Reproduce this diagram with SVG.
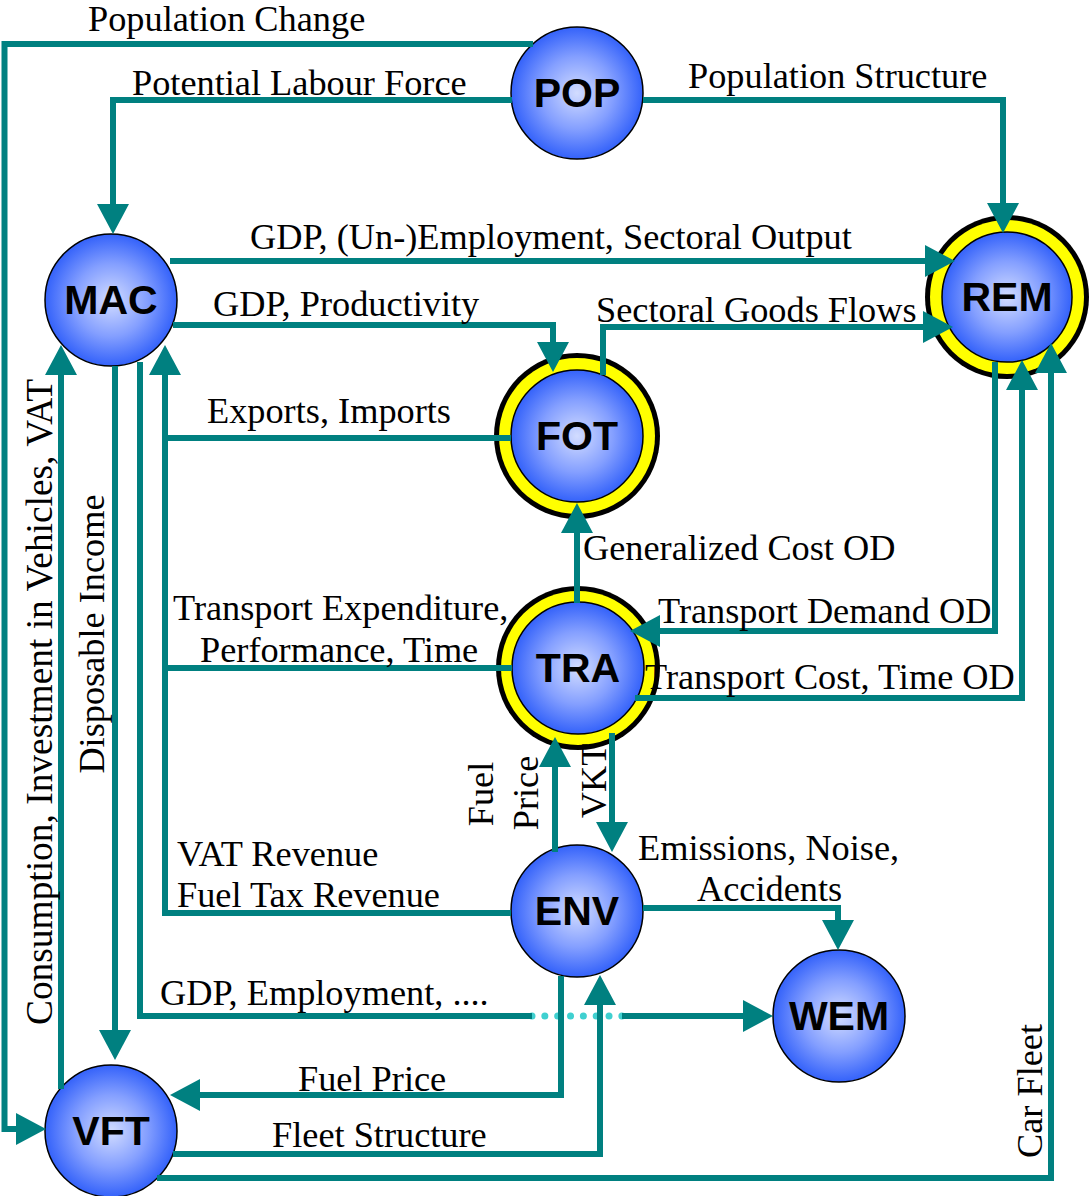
<svg xmlns="http://www.w3.org/2000/svg" width="1091" height="1196" viewBox="0 0 1091 1196">
<style>
.c{fill:none;stroke:#008080;stroke-width:6;stroke-linejoin:miter}
.a{marker-end:url(#ah)}
.lbl{font-family:"Liberation Serif","Times New Roman",serif;font-size:36.3px;fill:#000}
.nl{font-family:"Liberation Sans",Arial,sans-serif;font-size:41px;font-weight:bold;fill:#000;text-anchor:middle}
.blue{fill:url(#g);stroke:#000;stroke-width:1.5}
.ring{fill:#000}
.yel{fill:#ffff00}
</style>
<defs>
<radialGradient id="g" cx="50%" cy="50%" r="50%">
<stop offset="0" stop-color="#d2dcff"/>
<stop offset="0.55" stop-color="#849fff"/>
<stop offset="1" stop-color="#3462fa"/>
</radialGradient>
<marker id="ah" markerUnits="userSpaceOnUse" markerWidth="30" markerHeight="32" viewBox="0 0 30 32" refX="24" refY="16" orient="auto">
<path d="M0,0 L30,16 L0,32 z" fill="#008080"/>
</marker>
</defs>

<g id="POP"><circle class="blue" cx="577" cy="93" r="66"/><text class="nl" x="577" y="107">POP</text></g>
<g id="MAC"><circle class="blue" cx="111" cy="300" r="66"/><text class="nl" x="111" y="314">MAC</text></g>
<g id="REM"><circle class="ring" cx="1007" cy="297" r="82"/><circle class="yel" cx="1007" cy="297" r="77"/><circle class="blue" cx="1007" cy="297" r="65"/><text class="nl" x="1007" y="311">REM</text></g>
<g id="FOT"><circle class="ring" cx="577" cy="436" r="83"/><circle class="yel" cx="577" cy="436" r="78"/><circle class="blue" cx="577" cy="436" r="66"/><text class="nl" x="577" y="450">FOT</text></g>
<g id="TRA"><circle class="ring" cx="578" cy="668" r="82"/><circle class="yel" cx="578" cy="668" r="77"/><circle class="blue" cx="578" cy="668" r="66"/><text class="nl" x="578" y="682">TRA</text></g>
<g id="ENV"><circle class="blue" cx="577" cy="911" r="66"/><text class="nl" x="577" y="925">ENV</text></g>
<g id="WEM"><circle class="blue" cx="839" cy="1016" r="66"/><text class="nl" x="839" y="1030">WEM</text></g>
<g id="VFT"><circle class="blue" cx="111" cy="1131" r="66"/><text class="nl" x="111" y="1145">VFT</text></g>

<g id="connectors">
<line x1="532" y1="1016" x2="622" y2="1016" stroke="#40d0d0" stroke-width="7" stroke-linecap="round" stroke-dasharray="0 12.84"/>
<polyline class="c a" points="533,44 4.5,44 4.5,1129 40,1129"/>
<polyline class="c a" points="512,100 113,100 113,228"/>
<polyline class="c a" points="643,100 1003,100 1003,227"/>
<polyline class="c a" points="170,261 949,261"/>
<polyline class="c a" points="173,325 553,325 553,366"/>
<polyline class="c a" points="603,375 603,327 947,327"/>
<polyline class="c" points="511,438 165,438"/>
<polyline class="c a" points="511,913 165,913 165,351"/>
<polyline class="c" points="512,668 165,668"/>
<polyline class="c" points="140,362 140,1016 532,1016"/>
<polyline class="c a" points="622,1016 767,1016"/>
<polyline class="c a" points="115,366 115,1054"/>
<polyline class="c a" points="61,1089 61,351"/>
<polyline class="c a" points="577,603 577,509"/>
<polyline class="c a" points="995,362 995,631 636,631"/>
<polyline class="c a" points="635,698 1022,698 1022,366"/>
<polyline class="c a" points="157,1178 1051,1178 1051,349"/>
<polyline class="c a" points="555,852 555,743"/>
<polyline class="c a" points="612,733 612,846"/>
<polyline class="c a" points="643,908 838,908 838,944"/>
<polyline class="c a" points="561,976 561,1095 176,1095"/>
<polyline class="c a" points="173,1154 600,1154 600,981"/>
</g>

<g id="labels">
<text class="lbl" x="88" y="31">Population Change</text>
<text class="lbl" x="132" y="95">Potential Labour Force</text>
<text class="lbl" x="688" y="88">Population Structure</text>
<text class="lbl" x="250" y="249">GDP, (Un-)Employment, Sectoral Output</text>
<text class="lbl" x="213" y="316">GDP, Productivity</text>
<text class="lbl" x="596" y="322">Sectoral Goods Flows</text>
<text class="lbl" x="207" y="423">Exports, Imports</text>
<text class="lbl" x="583" y="560">Generalized Cost OD</text>
<text class="lbl" x="173" y="620">Transport Expenditure,</text>
<text class="lbl" x="200" y="662">Performance, Time</text>
<text class="lbl" x="658" y="623">Transport Demand OD</text>
<text class="lbl" x="645" y="689">Transport Cost, Time OD</text>
<text class="lbl" x="177" y="866">VAT Revenue</text>
<text class="lbl" x="177" y="907">Fuel Tax Revenue</text>
<text class="lbl" x="638" y="860">Emissions, Noise,</text>
<text class="lbl" x="697" y="901">Accidents</text>
<text class="lbl" x="160" y="1005">GDP, Employment, ....</text>
<text class="lbl" x="298" y="1091">Fuel Price</text>
<text class="lbl" x="272" y="1147">Fleet Structure</text>
<text class="lbl" text-anchor="middle" transform="translate(52,702) rotate(-90)" style="font-size:37.4px">Consumption, Investment in Vehicles, VAT</text>
<text class="lbl" text-anchor="middle" transform="translate(104,634) rotate(-90)">Disposable Income</text>
<text class="lbl" text-anchor="middle" transform="translate(493,794) rotate(-90)">Fuel</text>
<text class="lbl" text-anchor="middle" transform="translate(538,793) rotate(-90)">Price</text>
<text class="lbl" text-anchor="middle" transform="translate(606,781) rotate(-90)">VKT</text>
<text class="lbl" text-anchor="middle" transform="translate(1042,1091) rotate(-90)">Car Fleet</text>
</g>
</svg>
